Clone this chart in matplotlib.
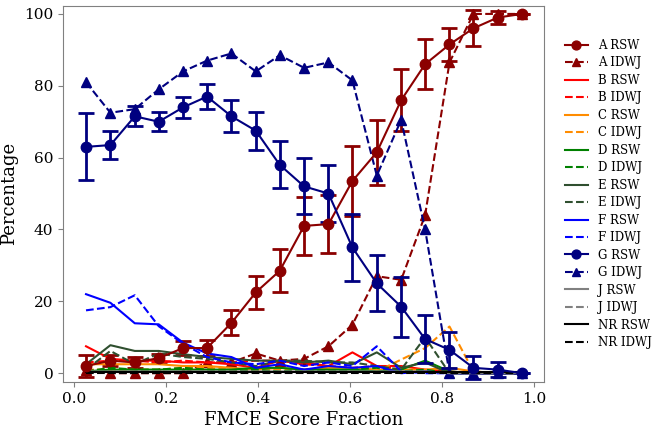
import matplotlib
matplotlib.use("Agg")
import matplotlib.pyplot as plt

plt.rcParams['font.family'] = ['DejaVu Serif']

# bin centres of the FMCE score fraction
x = [0.026, 0.079, 0.132, 0.184, 0.237, 0.289, 0.342, 0.395, 0.447, 0.5,
     0.553, 0.605, 0.658, 0.711, 0.763, 0.816, 0.868, 0.921, 0.974]

a_rsw = [2, 3.5, 3, 4.2, 7, 7, 14, 22.5, 28.5, 41, 41.5, 53.5, 61.5, 76, 86, 91.5, 96, 99, 100]
a_rsw_err = [3, 1.5, 1.5, 1.2, 2, 2.2, 3.5, 4.5, 6, 8, 8, 9.7, 9, 8.7, 7, 4.6, 5, 1.7, 0]
a_idwj = [1, 0, 0, 0, 0, 3, 3, 5.5, 3.5, 4, 7.5, 13.5, 27, 26, 44, 86.5, 100, 100, 100]

b_rsw = [7.5, 4, 3.5, 3.5, 3, 3, 2.5, 1.5, 3.5, 3, 2, 5.8, 2, 2, 1, 0.5, 0, 0, 0]
b_idwj = [3, 3.5, 3.5, 3, 3.5, 3, 3, 3.5, 3.5, 2.5, 2, 1.5, 2, 1, 0.5, 0, 0, 0, 0]
c_rsw = [2.5, 2.5, 2.5, 2.5, 2, 2, 1.5, 1, 1.5, 1, 1.5, 1.5, 1, 1, 1, 1.5, 0.5, 0, 0]
c_idwj = [1, 1, 1, 1, 1.5, 1.5, 1, 0.5, 1, 1, 0.5, 1, 0.5, 3.8, 7, 13, 0.5, 0, 0]
d_rsw = [0.5, 1, 1, 1, 1, 1, 1, 1.5, 1.5, 1, 1, 1, 0.5, 1, 3.5, 0.5, 0, 0, 0]
d_idwj = [0.5, 1.5, 1, 1, 1.5, 1, 0.5, 1, 0.5, 1, 0.5, 1, 1.5, 0.5, 1, 0, 0, 0, 0]
e_rsw = [2.5, 7.8, 6.2, 6.2, 5.3, 4.5, 4, 3.5, 3.5, 3, 3.5, 2.5, 5.8, 1.5, 3, 0, 0, 0, 0]
e_idwj = [1, 6.2, 2.5, 5.5, 4.5, 4, 3, 2, 3.5, 3.5, 3, 3, 2, 1, 10, 0, 0, 0, 0]
f_rsw = [22, 19.6, 13.9, 13.6, 8.5, 5.5, 4.5, 1.5, 2.5, 1, 2, 1.5, 2, 0, 0.5, 0, 0, 0, 0]
f_idwj = [17.5, 18.4, 21.7, 13.1, 8.2, 4.5, 3, 2.5, 3.5, 2, 3, 2, 7.5, 0.5, 0, 0, 0, 0, 0]

g_rsw = [63, 63.5, 71.5, 70, 74, 77, 71.5, 67.5, 58, 52, 50, 35, 25, 18.5, 9.5, 6.5, 1.5, 1, 0]
g_rsw_err = [9.3, 3.8, 2.8, 2.7, 3, 3.4, 4.5, 5.3, 6.5, 7.8, 8, 9.3, 7.8, 8.3, 6.6, 5, 3.2, 2.1, 0]
g_idwj = [81, 72.5, 73.5, 79, 84, 87, 89, 84, 88.5, 85, 86.5, 81.5, 55, 70.5, 40, 0, 0, 0, 0]

j_rsw = [0.5, 0.5, 0.5, 0.5, 0.5, 0.5, 0.5, 0.5, 0.5, 0.5, 0.5, 0.5, 0.5, 0.5, 0.5, 0, 0, 0, 0]
j_idwj = [0.3, 0.3, 0.3, 0.3, 0.3, 0.3, 0.3, 0.3, 0.3, 0.3, 0.3, 0.3, 0.3, 0.3, 0.3, 0, 0, 0, 0]
nr_rsw = [0.2, 0.2, 0.2, 0.2, 0.2, 0.2, 0.2, 0.2, 0.2, 0.2, 0.2, 0.2, 0.2, 0.2, 0.2, 0.2, 0.2, 0.2, 0.2]
nr_idwj = [0, 0, 0, 0, 0, 0, 0, 0, 0, 0, 0, 0, 0, 0, 0, 0, 0, 0, 0]

fig = plt.figure(figsize=(6.53, 4.30), dpi=100)
ax = fig.add_axes([0.0965, 0.112, 0.737, 0.874])

handles = []

# A with error bars
eb = ax.errorbar(x, a_rsw, yerr=a_rsw_err, color='darkred', marker='o', markersize=7.5,
                 linewidth=1.5, elinewidth=2, capsize=6, capthick=2)
eb.lines[0].set_label('A RSW')
handles.append(eb.lines[0])
h, = ax.plot(x, a_idwj, color='darkred', marker='^', markersize=7.5, linestyle='--',
             linewidth=1.5, label='A IDWJ')
handles.append(h)

small = [
    ('B', b_rsw, b_idwj, 'red'),
    ('C', c_rsw, c_idwj, 'darkorange'),
    ('D', d_rsw, d_idwj, 'green'),
    ('E', e_rsw, e_idwj, '#2f4f2f'),
    ('F', f_rsw, f_idwj, 'blue'),
]
for name, rsw, idwj, col in small:
    h1, = ax.plot(x, rsw, color=col, linewidth=1.5, label=name + ' RSW')
    h2, = ax.plot(x, idwj, color=col, linewidth=1.5, linestyle='--', label=name + ' IDWJ')
    handles += [h1, h2]

eb = ax.errorbar(x, g_rsw, yerr=g_rsw_err, color='navy', marker='o', markersize=7.5,
                 linewidth=1.5, elinewidth=2, capsize=6, capthick=2)
eb.lines[0].set_label('G RSW')
handles.append(eb.lines[0])
h, = ax.plot(x, g_idwj, color='navy', marker='^', markersize=7.5, linestyle='--',
             linewidth=1.5, label='G IDWJ')
handles.append(h)

for name, rsw, idwj, col in [('J', j_rsw, j_idwj, 'gray'), ('NR', nr_rsw, nr_idwj, 'black')]:
    h1, = ax.plot(x, rsw, color=col, linewidth=1.5, label=name + ' RSW')
    h2, = ax.plot(x, idwj, color=col, linewidth=1.5, linestyle='--', label=name + ' IDWJ')
    handles += [h1, h2]

ax.set_xlim(-0.024, 1.022)
ax.set_ylim(-2.4, 102.2)
ax.set_xticks([0.0, 0.2, 0.4, 0.6, 0.8, 1.0])
ax.tick_params(labelsize=11, color='gray')
for s in ax.spines.values():
    s.set_color('gray')
ax.set_xlabel('FMCE Score Fraction', fontsize=13)
ax.set_ylabel('Percentage', fontsize=13)

ax.legend(handles=handles, loc='center left', bbox_to_anchor=(1.02, 0.5),
          frameon=False, fontsize=8.5, labelspacing=0.38, markerscale=0.85)

fig.savefig('out.png', dpi=100)
